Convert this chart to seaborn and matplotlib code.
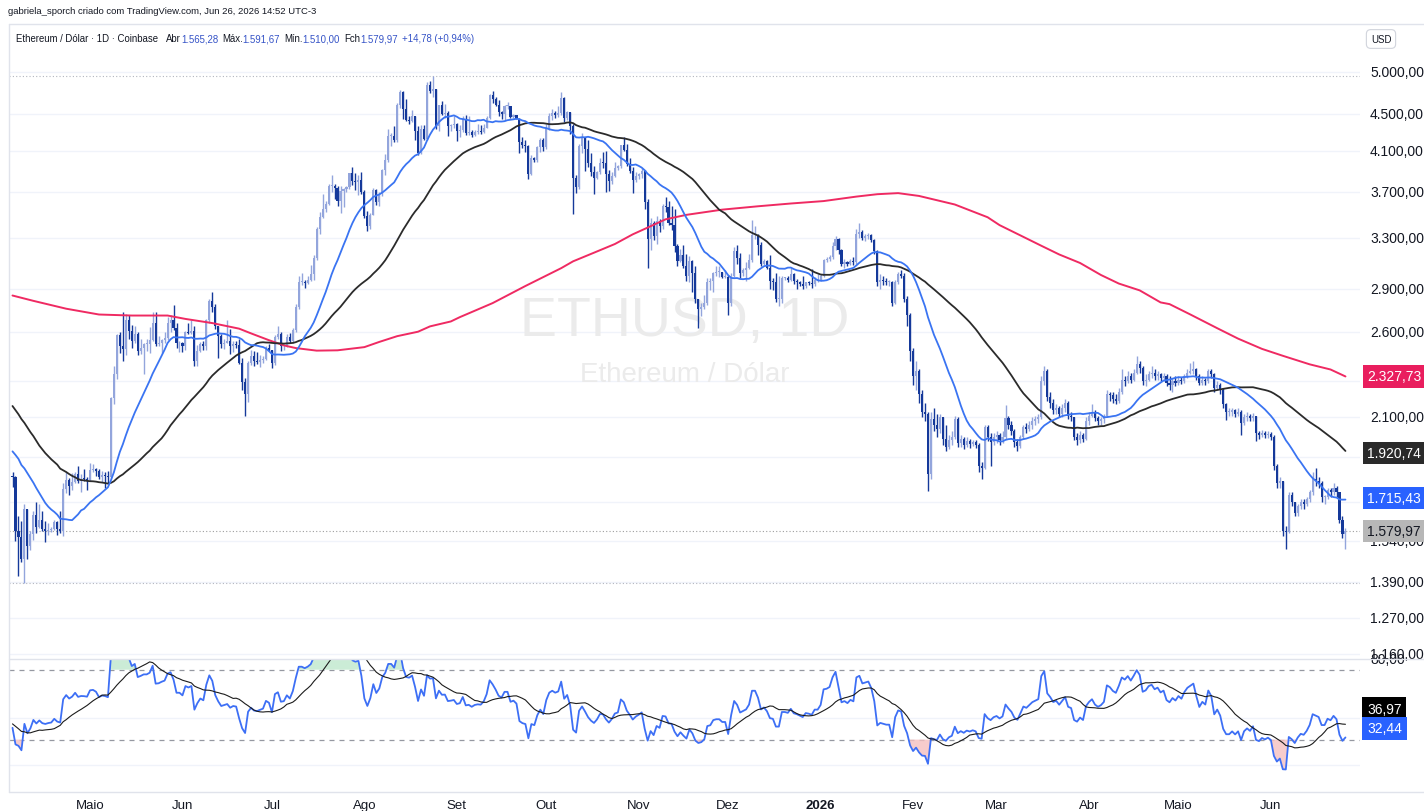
import numpy as np
import pandas as pd
import seaborn as sns
import matplotlib.pyplot as plt
from matplotlib.lines import Line2D

sns.set_theme(style="white")
plt.rcParams['font.family'] = ['Liberation Sans', 'DejaVu Sans']

# ETH/USD daily (Coinbase). First candle = 2025-04-05
# closes before the first candle, only used to start the 20/50 averages and the RSI
warmup_closes = [2725, 2690, 2660, 2745, 2670, 2715, 2740, 2665, 2765, 2815, 2500, 2490, 2340, 2310, 2235,
                 2220, 2515, 2155, 2175, 2240, 2200, 2140, 2205, 2010, 1865, 1920, 1910, 1865, 1910, 1935,
                 1890, 1925, 1930, 2055, 1985, 1965, 1985, 2085, 2080, 2065, 2010, 2000, 1895, 1830, 1805,
                 1820, 1905, 1795, 1815, 1815]

close_2025_04 = [1806, 1580, 1555, 1472, 1670, 1522, 1566, 1645, 1595, 1623, 1587, 1577, 1584, 1588, 1614,
                 1587, 1578, 1756, 1796, 1769, 1786, 1820, 1792, 1799, 1798, 1795]
high_2025_04 = [1830, 1815, 1640, 1620, 1690, 1670, 1580, 1660, 1700, 1690, 1660, 1617, 1610, 1595, 1625,
                1619, 1660, 1783, 1830, 1802, 1828, 1830, 1858, 1822, 1844, 1810]
low_2025_04 = [1765, 1540, 1410, 1460, 1385, 1470, 1505, 1545, 1570, 1590, 1580, 1535, 1565, 1576, 1582,
               1565, 1570, 1560, 1735, 1730, 1750, 1780, 1780, 1740, 1790, 1750]

close_2025_05 = [1840, 1843, 1834, 1808, 1817, 1815, 1810, 2206, 2345, 2582, 2512, 2495, 2680, 2610, 2545,
                 2590, 2480, 2500, 2525, 2525, 2550, 2665, 2525, 2530, 2550, 2565, 2660, 2680, 2630, 2530, 2530]
high_2025_05 = [1874, 1870, 1850, 1845, 1835, 1830, 1835, 2210, 2390, 2590, 2600, 2740, 2725, 2720, 2650,
                2640, 2605, 2560, 2535, 2560, 2635, 2735, 2735, 2580, 2555, 2600, 2700, 2715, 2785, 2660, 2545]
low_2025_05 = [1790, 1830, 1815, 1800, 1785, 1760, 1775, 1805, 2170, 2315, 2470, 2420, 2455, 2555, 2500,
               2535, 2455, 2460, 2345, 2480, 2470, 2545, 2515, 2515, 2470, 2535, 2550, 2605, 2615, 2500, 2475]

close_2025_06 = [2510, 2605, 2595, 2610, 2420, 2480, 2525, 2510, 2680, 2815, 2770, 2640, 2575, 2525, 2535,
                 2545, 2510, 2525, 2520, 2410, 2295, 2230, 2410, 2450, 2420, 2415, 2425, 2435, 2500, 2485]
high_2025_06 = [2540, 2610, 2660, 2680, 2640, 2520, 2540, 2545, 2690, 2830, 2880, 2790, 2640, 2590, 2555,
                2680, 2620, 2545, 2545, 2555, 2440, 2320, 2420, 2485, 2480, 2475, 2455, 2450, 2515, 2525]
low_2025_06 = [2475, 2485, 2590, 2590, 2390, 2390, 2475, 2490, 2490, 2660, 2740, 2620, 2440, 2500, 2495,
               2530, 2460, 2475, 2500, 2400, 2250, 2110, 2185, 2395, 2390, 2400, 2385, 2410, 2425, 2480]

close_2025_07 = [2405, 2570, 2590, 2510, 2515, 2570, 2545, 2615, 2770, 2955, 2955, 2945, 2970, 3010, 3135,
                 3370, 3475, 3550, 3590, 3755, 3760, 3735, 3620, 3710, 3725, 3745, 3880, 3800, 3790, 3810, 3700]
high_2025_07 = [2490, 2585, 2640, 2605, 2520, 2590, 2595, 2630, 2790, 2995, 3020, 2970, 3000, 3080, 3160,
                3390, 3520, 3680, 3615, 3775, 3860, 3780, 3755, 3755, 3735, 3760, 3885, 3940, 3880, 3865, 3890]
low_2025_07 = [2375, 2395, 2560, 2480, 2490, 2505, 2530, 2530, 2600, 2760, 2930, 2905, 2940, 2960, 2970,
               3120, 3330, 3470, 3520, 3580, 3700, 3640, 3570, 3510, 3560, 3700, 3725, 3770, 3720, 3675, 3680]

close_2025_08 = [3485, 3395, 3495, 3715, 3610, 3685, 3910, 4010, 4260, 4260, 4220, 4600, 4755, 4555, 4430,
                 4420, 4475, 4315, 4080, 4340, 4225, 4840, 4775, 4790, 4370, 4600, 4505, 4510, 4365, 4375, 4390]
high_2025_08 = [3720, 3525, 3510, 3740, 3725, 3700, 3925, 4070, 4330, 4290, 4365, 4630, 4785, 4770, 4680,
                4480, 4550, 4480, 4365, 4380, 4375, 4880, 4890, 4955, 4790, 4610, 4650, 4620, 4530, 4385, 4480]
low_2025_08 = [3470, 3355, 3375, 3490, 3580, 3575, 3660, 3860, 3990, 4150, 4200, 4200, 4570, 4450, 4420,
               4390, 4410, 4220, 4065, 4070, 4220, 4215, 4740, 4700, 4340, 4310, 4485, 4455, 4260, 4310, 4350]

close_2025_09 = [4310, 4325, 4450, 4295, 4305, 4270, 4300, 4310, 4305, 4350, 4460, 4720, 4670, 4605, 4525,
                 4500, 4590, 4590, 4470, 4485, 4450, 4200, 4165, 4150, 3870, 4035, 4015, 4140, 4215, 4145]
high_2025_09 = [4400, 4380, 4480, 4485, 4480, 4320, 4325, 4385, 4380, 4395, 4480, 4730, 4770, 4695, 4660,
                4530, 4600, 4640, 4595, 4505, 4495, 4460, 4250, 4215, 4160, 4065, 4040, 4150, 4235, 4235]
low_2025_09 = [4210, 4250, 4300, 4265, 4275, 4250, 4260, 4280, 4285, 4295, 4350, 4450, 4630, 4590, 4475,
               4440, 4435, 4560, 4455, 4460, 4440, 4080, 4130, 4090, 3820, 3865, 3990, 3990, 4090, 4100]

close_2025_10 = [4350, 4480, 4515, 4490, 4510, 4685, 4460, 4525, 4370, 3835, 3750, 4150, 4245, 4125, 3985,
                 3890, 3830, 3890, 3985, 3980, 3875, 3800, 3855, 3935, 3950, 4160, 4115, 3975, 3900, 3810, 3850]
high_2025_10 = [4385, 4510, 4555, 4530, 4595, 4755, 4700, 4535, 4525, 4395, 3860, 4170, 4290, 4210, 4220,
                4080, 3950, 3900, 4030, 4090, 4100, 3910, 3890, 3990, 3960, 4165, 4250, 4170, 4035, 3940, 3890]
low_2025_10 = [4125, 4325, 4435, 4455, 4470, 4495, 4410, 4430, 4280, 3500, 3690, 3730, 4080, 3900, 3940,
               3850, 3680, 3820, 3875, 3930, 3700, 3710, 3780, 3840, 3915, 3930, 4100, 3950, 3880, 3690, 3790]

close_2025_11 = [3875, 3905, 3605, 3290, 3420, 3310, 3440, 3395, 3575, 3565, 3420, 3410, 3230, 3110, 3160,
                 3075, 3000, 3110, 3020, 2830, 2760, 2770, 2800, 2950, 2960, 3020, 3030, 3030, 2990, 2990]
high_2025_11 = [3880, 3935, 3915, 3635, 3470, 3440, 3480, 3455, 3590, 3655, 3620, 3570, 3545, 3250, 3210,
                3240, 3170, 3150, 3120, 3070, 2830, 2800, 2860, 2980, 2985, 3030, 3075, 3075, 3030, 3045]
low_2025_11 = [3825, 3830, 3545, 3060, 3200, 3280, 3250, 3350, 3370, 3520, 3405, 3360, 3180, 3070, 3100,
               3060, 2960, 2950, 2880, 2800, 2630, 2710, 2760, 2785, 2890, 2875, 2995, 2990, 2980, 2980]

close_2025_12 = [2800, 3000, 3190, 3135, 3020, 3040, 3060, 3120, 3320, 3320, 3240, 3085, 3110, 3060, 2960,
                 2950, 2830, 2830, 2980, 2980, 2970, 3010, 2960, 2950, 2935, 2920, 2950, 2945, 2935, 2970, 2970]
high_2025_12 = [3005, 3020, 3220, 3240, 3175, 3060, 3100, 3170, 3450, 3400, 3330, 3260, 3125, 3120, 3160,
                2980, 3020, 3000, 3000, 2990, 3000, 3060, 3020, 2975, 2960, 3000, 2955, 2960, 3050, 2990, 3010]
low_2025_12 = [2720, 2780, 2990, 3090, 2980, 3000, 2960, 3050, 3100, 3290, 3160, 3070, 3080, 3050, 2900,
               2890, 2810, 2780, 2800, 2970, 2950, 2960, 2940, 2900, 2920, 2900, 2910, 2930, 2910, 2920, 2950]

close_2026_01 = [3000, 3120, 3125, 3140, 3230, 3290, 3200, 3090, 3100, 3085, 3110, 3100, 3330, 3350, 3300,
                 3310, 3320, 3280, 3190, 2950, 2970, 2960, 2950, 2950, 2800, 2950, 3010, 3000, 2830, 2720, 2480]
high_2026_01 = [3010, 3130, 3140, 3160, 3260, 3310, 3300, 3210, 3130, 3110, 3125, 3140, 3370, 3420, 3360,
                3330, 3340, 3330, 3290, 3200, 3010, 3000, 2980, 2970, 2960, 2970, 3030, 3040, 3020, 2850, 2730]
low_2026_01 = [2960, 2990, 3100, 3110, 3130, 3200, 3170, 3070, 3060, 3070, 3080, 3080, 3090, 3300, 3280,
               3270, 3290, 3260, 3170, 2920, 2900, 2930, 2930, 2920, 2780, 2790, 2940, 2980, 2810, 2640, 2420]

close_2026_02 = [2330, 2360, 2230, 2130, 2120, 1820, 2090, 2060, 2040, 2100, 1990, 1950, 1985, 2000, 2090,
                 1970, 1990, 1960, 1980, 1965, 1975, 1960, 1860, 1850, 2050, 2000, 1975, 2000]
high_2026_02 = [2500, 2420, 2370, 2250, 2180, 2130, 2130, 2150, 2120, 2120, 2100, 2060, 2010, 2030, 2110,
                2100, 2010, 2000, 2000, 1990, 1985, 1985, 1970, 1880, 2060, 2060, 2020, 2020]
low_2026_02 = [2280, 2250, 2180, 2100, 2080, 1745, 1800, 2030, 2000, 2020, 1960, 1930, 1940, 1960, 1990,
               1950, 1950, 1940, 1950, 1945, 1955, 1945, 1830, 1800, 1845, 1980, 1860, 1960]

close_2026_03 = [2010, 1985, 2000, 2095, 2060, 2030, 1975, 1955, 2000, 2050, 2040, 2060, 2080, 2090, 2100,
                 2300, 2360, 2210, 2180, 2140, 2150, 2120, 2150, 2180, 2110, 2100, 2000, 1985, 2010, 1990, 2080]
high_2026_03 = [2030, 2020, 2030, 2165, 2110, 2080, 2040, 1990, 2010, 2060, 2070, 2080, 2100, 2110, 2120,
                2330, 2390, 2370, 2240, 2200, 2170, 2160, 2170, 2200, 2190, 2130, 2100, 2020, 2030, 2020, 2100]
low_2026_03 = [1970, 1960, 1970, 1990, 2040, 2010, 1950, 1930, 1945, 1990, 2020, 2030, 2040, 2060, 2070,
               2090, 2280, 2190, 2150, 2120, 2120, 2100, 2100, 2130, 2090, 2080, 1985, 1960, 1970, 1975, 1985]

close_2026_04 = [2110, 2130, 2095, 2080, 2090, 2110, 2230, 2220, 2200, 2190, 2240, 2310, 2300, 2330, 2310,
                 2350, 2400, 2380, 2300, 2310, 2340, 2350, 2330, 2340, 2320, 2330, 2290, 2280, 2300, 2290]
high_2026_04 = [2130, 2175, 2140, 2110, 2100, 2120, 2250, 2240, 2240, 2230, 2260, 2370, 2330, 2360, 2350,
                2370, 2450, 2420, 2390, 2340, 2360, 2390, 2370, 2360, 2350, 2350, 2340, 2330, 2320, 2330]
low_2026_04 = [2060, 2100, 2080, 2060, 2060, 2070, 2100, 2190, 2180, 2170, 2180, 2230, 2270, 2290, 2290,
               2300, 2340, 2350, 2280, 2270, 2300, 2320, 2310, 2310, 2300, 2300, 2270, 2250, 2240, 2270]

close_2026_05 = [2310, 2300, 2330, 2350, 2360, 2370, 2330, 2290, 2310, 2300, 2360, 2340, 2260, 2280, 2250,
                 2170, 2130, 2130, 2140, 2120, 2130, 2070, 2100, 2110, 2095, 2110, 2020, 2010, 2020, 2010, 2015]
high_2026_05 = [2330, 2325, 2345, 2370, 2410, 2420, 2380, 2340, 2330, 2320, 2370, 2370, 2350, 2300, 2290,
                2260, 2180, 2150, 2150, 2145, 2150, 2140, 2120, 2130, 2120, 2125, 2110, 2030, 2035, 2030, 2030]
low_2026_05 = [2280, 2285, 2290, 2320, 2340, 2340, 2310, 2280, 2280, 2280, 2290, 2320, 2240, 2250, 2230,
               2150, 2085, 2110, 2110, 2100, 2110, 2010, 2060, 2080, 2080, 2080, 1980, 1990, 2000, 1995, 1995]

close_2026_06 = [2000, 1860, 1780, 1790, 1580, 1575, 1730, 1700, 1650, 1680, 1700, 1690, 1710, 1740, 1800,
                 1790, 1780, 1720, 1720, 1750, 1740, 1760, 1740, 1625, 1565.28, 1579.97]
high_2026_06 = [2025, 2010, 1870, 1810, 1780, 1600, 1740, 1740, 1700, 1690, 1710, 1710, 1720, 1750, 1830,
                1850, 1810, 1790, 1730, 1760, 1760, 1780, 1770, 1740, 1640, 1591.67]
low_2026_06 = [1985, 1840, 1760, 1760, 1560, 1510, 1570, 1680, 1640, 1640, 1670, 1670, 1680, 1700, 1730,
               1770, 1760, 1700, 1690, 1710, 1720, 1730, 1720, 1610, 1550, 1510.00]

# 200-day average (red) at day index from the first candle
sma200_days = [0, 7, 18, 29, 40, 52, 58, 67, 76, 80, 86, 91, 95, 102, 109, 118, 123, 129, 136, 140,
               147, 150, 161, 172, 184, 188, 195, 202, 208, 213, 219, 226, 238, 250, 261, 272, 283, 290, 297, 304,
               316, 327, 331, 338, 345, 351, 358, 365, 371, 378, 385, 388, 395, 404, 411, 419, 426, 435, 442, 447]
sma200_vals = [2853, 2815, 2760, 2720, 2713, 2713, 2690, 2662, 2625, 2594, 2550, 2517, 2500, 2484, 2486,
               2506, 2539, 2576, 2605, 2640, 2673, 2702, 2799, 2922, 3056, 3109, 3177, 3247, 3327, 3384,
               3455, 3494, 3540, 3570, 3595, 3617, 3658, 3680, 3690, 3664, 3586, 3473, 3405, 3318, 3233,
               3163, 3096, 3004, 2940, 2890, 2804, 2792, 2720, 2628, 2560, 2495, 2452, 2400, 2369, 2328]

# right scale: grid values and last values shown in coloured boxes
price_ticks = [5000, 4500, 4100, 3700, 3300, 2900, 2600, 2300, 2100, 1900, 1700, 1540, 1390, 1270, 1160]
last_sma200, last_sma50, last_sma20, last_close = 2327.73, 1920.74, 1715.43, 1579.97
last_rsi_ma, last_rsi = 36.97, 32.44
month_labels = ["Maio", "Jun", "Jul", "Ago", "Set", "Out", "Nov", "Dez", "2026", "Fev", "Mar", "Abr", "Maio", "Jun"]

closes = np.array(close_2025_04 + close_2025_05 + close_2025_06 + close_2025_07 + close_2025_08 + close_2025_09 +
                  close_2025_10 + close_2025_11 + close_2025_12 + close_2026_01 + close_2026_02 + close_2026_03 +
                  close_2026_04 + close_2026_05 + close_2026_06, dtype=float)
highs = np.array(high_2025_04 + high_2025_05 + high_2025_06 + high_2025_07 + high_2025_08 + high_2025_09 +
                 high_2025_10 + high_2025_11 + high_2025_12 + high_2026_01 + high_2026_02 + high_2026_03 +
                 high_2026_04 + high_2026_05 + high_2026_06, dtype=float)
lows = np.array(low_2025_04 + low_2025_05 + low_2025_06 + low_2025_07 + low_2025_08 + low_2025_09 +
                low_2025_10 + low_2025_11 + low_2025_12 + low_2026_01 + low_2026_02 + low_2026_03 +
                low_2026_04 + low_2026_05 + low_2026_06, dtype=float)

start = pd.Timestamp("2025-04-05")
day = np.arange(len(closes))
nw = len(warmup_closes)
all_close = pd.Series(warmup_closes + list(closes), dtype=float)
opens = all_close.shift(1).values[nw:]
sma20 = all_close.rolling(20).mean().values[nw:]
sma50 = all_close.rolling(50).mean().values[nw:]

# RSI 14 (Wilder) + 14 SMA of it
delta = all_close.diff()
gain = delta.clip(lower=0).ewm(alpha=1 / 14, adjust=False).mean()
loss = (-delta.clip(upper=0)).ewm(alpha=1 / 14, adjust=False).mean()
rsi_all = 100 - 100 / (1 + gain / loss)
rsi = rsi_all.values[nw:]
rsi_ma = rsi_all.rolling(14).mean().values[nw:]

df = pd.DataFrame({"day": day, "sma20": sma20, "sma50": sma50, "rsi": rsi, "rsi_ma": rsi_ma})
df200 = pd.DataFrame({"day": sma200_days, "sma200": sma200_vals})

# ---- layout (pixels of a 1424x812 picture) ----
W, H = 1424, 812
def box(x0, y0, x1, y1):
    return [x0 / W, 1 - y1 / H, (x1 - x0) / W, (y1 - y0) / H]

def br(v):
    return f"{v:,.2f}".replace(",", "X").replace(".", ",").replace("X", ".")

PX_DAY, X0 = 2.982, 12.5                    # candle spacing, x of first candle
Y_REF, P_REF, PX_LN = 582.7, 1390, 398.0    # log price scale
PANE_L, PANE_R, PANE_T, PANE_B, RSI_B = 9, 1360, 27, 660, 793
TXT = "#131722"
UP, DOWN = "#93a5dc", "#15399a"

fig = plt.figure(figsize=(W / 100, H / 100), dpi=100)
fig.patch.set_facecolor("white")
ax = fig.add_axes(box(PANE_L, PANE_T, PANE_R, PANE_B))
ax2 = fig.add_axes(box(PANE_L, PANE_B, PANE_R, RSI_B))
for a in (ax, ax2):
    a.set_facecolor("white")
    for s in a.spines.values():
        s.set_visible(False)
    a.set_xlim((PANE_L - X0) / PX_DAY, (PANE_R - X0) / PX_DAY)

ax.set_yscale("log")
ax.set_ylim(P_REF * np.exp(-(PANE_B - Y_REF) / PX_LN), P_REF * np.exp((Y_REF - PANE_T) / PX_LN))

def ypix(v):
    return Y_REF - PX_LN * np.log(v / P_REF)

boxed = [last_sma200, last_sma50, last_sma20, last_close]

# grid + scale labels (labels that sit under a coloured box are not shown)
lab_x = (1370 - PANE_L) / (PANE_R - PANE_L)
for v in price_ticks:
    ax.axhline(v, color="#f0f3fa", lw=1, zorder=0)
    gaps = [ypix(v) - ypix(b) for b in boxed]
    if any(-4 < g < 8 for g in gaps):
        continue
    ax.text(lab_x, v, br(v), transform=ax.get_yaxis_transform(), ha="left", va="center",
            fontsize=10, color=TXT, clip_on=False, zorder=5)

# watermark
ax.text(0.5, 0.534, "ETHUSD, 1D", transform=ax.transAxes, ha="center", va="center",
        fontsize=40, color="#ebebeb", zorder=0)
ax.text(0.5, 0.45, "Ethereum / Dólar", transform=ax.transAxes, ha="center", va="center",
        fontsize=20, color="#ebebeb", zorder=0)

# candles
body_lo = np.minimum(opens, closes)
body_hi = np.maximum(opens, closes)
wick_hi = np.maximum(highs, body_hi)
wick_lo = np.minimum(lows, body_lo)
cols = np.where(closes >= opens, UP, DOWN)
ax.vlines(day, wick_lo, wick_hi, colors=cols, lw=1.0, zorder=2)
ax.bar(day, np.maximum(body_hi - body_lo, body_lo * 0.002), bottom=body_lo, width=0.7,
       color=cols, linewidth=0, zorder=3)

# range / last price dotted lines
ax.axhline(wick_hi.max(), color="#b2b5be", lw=0.8, ls=(0, (1, 2)), zorder=1)
ax.axhline(wick_lo.min(), color="#b2b5be", lw=0.8, ls=(0, (1, 2)), zorder=1)
ax.axhline(closes[-1], color="#9e9e9e", lw=0.8, ls=(0, (1, 2)), zorder=1)

# moving averages
sns.lineplot(data=df200, x="day", y="sma200", ax=ax, color="#ef2a62", lw=1.4, zorder=4)
sns.lineplot(data=df, x="day", y="sma50", ax=ax, color="#2b2b2b", lw=1.3, zorder=4)
sns.lineplot(data=df, x="day", y="sma20", ax=ax, color="#3a74f2", lw=1.3, zorder=4)
ax.set_xlabel("")
ax.set_ylabel("")
ax.set_xticks([])
ax.set_yticks([])
ax.set_yticks([], minor=True)

# coloured value labels on the price scale
box_x = (1367 - PANE_L) / (PANE_R - PANE_L)
for v, bg, fg in zip(boxed, ["#e91e5e", "#2a2a2a", "#2962ff", "#b7b7b7"], ["white", "white", "white", TXT]):
    ax.text(box_x, v, br(v), transform=ax.get_yaxis_transform(), ha="left", va="center", fontsize=10,
            color=fg, clip_on=False, zorder=6,
            bbox=dict(boxstyle="square,pad=0.3", fc=bg, ec="none"))

# ---- RSI pane ----
rsi_top = (RSI_B - PANE_B) / ((RSI_B - 670.7) / 70)
ax2.set_ylim(0, rsi_top)
for v in (42.1, 15.3):
    ax2.axhline(v, color="#f0f3fa", lw=1, zorder=0)
for v in (70, 30):
    ax2.axhline(v, color="#9598a1", lw=0.9, ls=(0, (4, 4)), zorder=1)
r = df["rsi"].values
ax2.fill_between(day, 70, np.minimum(r, rsi_top), where=r > 70, interpolate=True,
                 color="#bfe8cc", alpha=0.8, lw=0, zorder=1)
ax2.fill_between(day, 30, r, where=r < 30, interpolate=True,
                 color="#f6c0c0", alpha=0.8, lw=0, zorder=1)
sns.lineplot(data=df, x="day", y="rsi", ax=ax2, color="#3d6ff5", lw=1.3, zorder=3)
sns.lineplot(data=df, x="day", y="rsi_ma", ax=ax2, color="#1c1c1c", lw=0.8, zorder=4)
ax2.set_xlabel("")
ax2.set_ylabel("")
ax2.set_yticks([])
ax2.set_xticks([])

ax2.text(lab_x, 1.0, "80,00", transform=ax2.transAxes, ha="left", va="center",
         fontsize=10, color=TXT, clip_on=False, zorder=5)
for v, bg, dy in [(last_rsi_ma, "#000000", 13.5), (last_rsi, "#2962ff", 5)]:
    ax2.annotate(f"{v:.2f}".replace(".", ","), xy=(box_x, v), xycoords=ax2.get_yaxis_transform(),
                 xytext=(0, dy), textcoords="offset points", ha="left", va="center", fontsize=10,
                 color="white", annotation_clip=False, zorder=6,
                 bbox=dict(boxstyle="square,pad=0.35", fc=bg, ec="none"))

# time axis
for i, lab in enumerate(month_labels):
    d0 = pd.Timestamp(2025 + (4 + i) // 12, (4 + i) % 12 + 1, 1)
    d = (d0 - start).days
    ax2.text(d, -0.1, lab, transform=ax2.get_xaxis_transform(), ha="center", va="center",
             fontsize=9.5, color=TXT, fontweight="bold" if lab == "2026" else "normal", clip_on=False)

# frame lines
for yy in (25, PANE_B, RSI_B):
    fig.add_artist(Line2D([PANE_L / W, 1], [1 - yy / H] * 2, color="#e0e3eb", lw=1))
fig.add_artist(Line2D([PANE_L / W] * 2, [1 - 25 / H, 1 - RSI_B / H], color="#e0e3eb", lw=1))

# header
fig.text(8 / W, 1 - 12 / H, "gabriela_sporch criado com TradingView.com, Jun 26, 2026 14:52 UTC-3",
         fontsize=6.8, color=TXT, ha="left", va="center")
renderer = fig.canvas.get_renderer()
VAL = "#3553c7"
parts = [("Ethereum / Dólar · 1D · Coinbase", TXT, 8), ("Abr", TXT, 0), ("1.565,28", VAL, 4),
         ("Máx.", TXT, 0), ("1.591,67", VAL, 4), ("Mín.", TXT, 0), ("1.510,00", VAL, 4),
         ("Fch", TXT, 0), ("1.579,97", VAL, 4), ("+14,78 (+0,94%)", VAL, 0)]
x = 16
for s, c, gap in parts:
    t = fig.text(x / W, 1 - 39 / H, s, fontsize=6.9, color=c, ha="left", va="center")
    x += t.get_window_extent(renderer=renderer).width + gap
fig.text(1381 / W, 1 - 40 / H, "USD", fontsize=7, color=TXT, ha="center", va="center",
         bbox=dict(boxstyle="round,pad=0.45", fc="white", ec="#d1d4dc", lw=0.8))

fig.savefig("out.png", dpi=100)
